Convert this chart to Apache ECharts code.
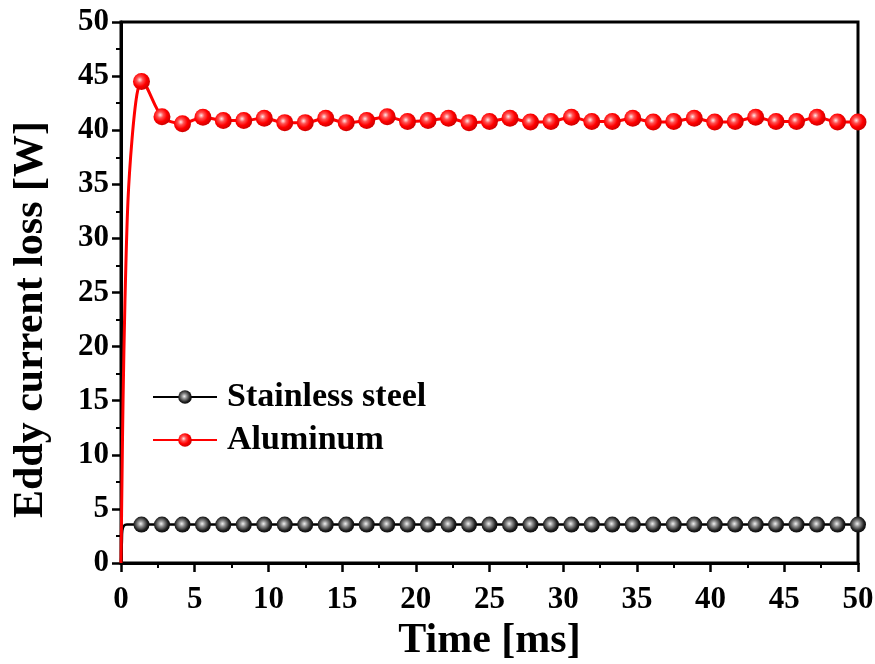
<!DOCTYPE html>
<html>
<head>
<meta charset="utf-8">
<script src="https://cdn.jsdelivr.net/npm/echarts@6/dist/echarts.min.js"></script>
<style>html,body{margin:0;padding:0;background:#fff;}#c{width:875px;height:664px;}</style>
</head>
<body>
<div id="c"></div>
<script>
// ---- data ----
const markerTimes = [0, 1.39, 2.78, 4.17, 5.56, 6.94, 8.33, 9.72, 11.11, 12.5, 13.89, 15.28, 16.67, 18.06, 19.44, 20.83, 22.22, 23.61, 25, 26.39, 27.78, 29.17, 30.56, 31.94, 33.33, 34.72, 36.11, 37.5, 38.89, 40.28, 41.67, 43.06, 44.44, 45.83, 47.22, 48.61, 50];
const aluminumValues = [0, 44.5, 41.25, 40.6, 41.2, 40.9, 40.9, 41.1, 40.7, 40.7, 41.1, 40.7, 40.9, 41.25, 40.8, 40.9, 41.1, 40.7, 40.8, 41.1, 40.75, 40.8, 41.2, 40.8, 40.8, 41.1, 40.75, 40.8, 41.1, 40.75, 40.8, 41.2, 40.8, 40.8, 41.2, 40.75, 40.75];
const steelValues = [0, 3.55, 3.55, 3.55, 3.55, 3.55, 3.55, 3.55, 3.55, 3.55, 3.55, 3.55, 3.55, 3.55, 3.55, 3.55, 3.55, 3.55, 3.55, 3.55, 3.55, 3.55, 3.55, 3.55, 3.55, 3.55, 3.55, 3.55, 3.55, 3.55, 3.55, 3.55, 3.55, 3.55, 3.55, 3.55, 3.55];
// early transient (line only, no markers)
const aluminumRiseTimes = [0.07, 0.14, 0.27, 0.47, 0.75, 1.08];
const aluminumRiseValues = [8.0, 15.1, 24.3, 33.4, 39.2, 43.3];
const steelRiseTimes = [0.06, 0.09, 0.2, 0.4];
const steelRiseValues = [2.0, 3.0, 3.45, 3.55];
const xTicks = [0, 5, 10, 15, 20, 25, 30, 35, 40, 45, 50];
const yTicks = [0, 5, 10, 15, 20, 25, 30, 35, 40, 45, 50];
const seriesNames = ['Stainless steel', 'Aluminum'];

const FONT = "'Liberation Serif', 'Times New Roman', serif";

function buildData(times, vals, riseT, riseV) {
  const pts = [];
  times.forEach((t, i) => pts.push({ value: [t, vals[i]], symbol: i === 0 ? 'none' : 'circle' }));
  riseT.forEach((t, i) => pts.push({ value: [t, riseV[i]], symbol: 'none' }));
  pts.sort((a, b) => a.value[0] - b.value[0]);
  return pts;
}

const redBall = { type: 'radial', x: 0.4, y: 0.4, r: 0.6,
  colorStops: [{ offset: 0, color: '#ffe8e8' }, { offset: 0.3, color: '#ff5050' }, { offset: 0.65, color: '#ff0000' }, { offset: 1, color: '#d00000' }] };
const blackBall = { type: 'radial', x: 0.45, y: 0.45, r: 0.6,
  colorStops: [{ offset: 0, color: '#f0f0f0' }, { offset: 0.3, color: '#909090' }, { offset: 0.7, color: '#222' }, { offset: 1, color: '#000' }] };

const chart = echarts.init(document.getElementById('c'), null, { renderer: 'canvas' });
chart.setOption({
  animation: false,
  backgroundColor: '#fff',
  grid: { left: 121, right: 17, top: 22, bottom: 101, show: true, borderColor: '#000', borderWidth: 3, containLabel: false, outerBoundsMode: 'none' },
  legend: {
    orient: 'vertical', left: 152, top: 379, padding: 0,
    itemWidth: 64, itemHeight: 17, itemGap: 7,
    textStyle: { fontFamily: FONT, fontWeight: 'bold', fontSize: 34, color: '#000', lineHeight: 36, padding: [0, 0, 0, 5] },
    data: seriesNames
  },
  xAxis: {
    type: 'value', min: xTicks[0], max: xTicks[xTicks.length - 1], interval: 5,
    name: 'Time [ms]', nameLocation: 'middle', nameGap: 56,
    nameTextStyle: { fontFamily: FONT, fontWeight: 'bold', fontSize: 42, color: '#000' },
    axisLine: { show: true, lineStyle: { color: '#000', width: 3 } },
    axisTick: { show: true, inside: false, length: 9, lineStyle: { width: 2.5, color: '#000' } },
    minorTick: { show: true, splitNumber: 2, length: 5, lineStyle: { width: 2, color: '#000' } },
    splitLine: { show: false },
    axisLabel: { margin: 21, fontFamily: FONT, fontWeight: 'bold', fontSize: 31, color: '#000' }
  },
  yAxis: {
    type: 'value', min: yTicks[0], max: yTicks[yTicks.length - 1], interval: 5,
    name: 'Eddy current loss [W]', nameLocation: 'middle', nameGap: 69,
    nameTextStyle: { fontFamily: FONT, fontWeight: 'bold', fontSize: 42, color: '#000', padding: [0, 54, 0, 0] },
    axisLine: { show: true, lineStyle: { color: '#000', width: 3 } },
    axisTick: { show: true, inside: false, length: 9, lineStyle: { width: 2.5, color: '#000' } },
    minorTick: { show: true, splitNumber: 2, length: 5, lineStyle: { width: 2, color: '#000' } },
    splitLine: { show: false },
    axisLabel: { margin: 12, fontFamily: FONT, fontWeight: 'bold', fontSize: 31, color: '#000' }
  },
  series: [
    {
      name: seriesNames[0], type: 'line', smooth: 0.3,
      data: buildData(markerTimes, steelValues, steelRiseTimes, steelRiseValues),
      symbol: 'circle', symbolSize: 16, showAllSymbol: true,
      lineStyle: { color: '#000', width: 2.5 },
      itemStyle: { color: blackBall, borderWidth: 0 },
      z: 3
    },
    {
      name: seriesNames[1], type: 'line', smooth: 0.3,
      data: buildData(markerTimes, aluminumValues, aluminumRiseTimes, aluminumRiseValues),
      symbol: 'circle', symbolSize: 17, showAllSymbol: true,
      lineStyle: { color: '#ff0000', width: 3 },
      itemStyle: { color: redBall, borderWidth: 0 },
      z: 4
    }
  ]
});
</script>
</body>
</html>
